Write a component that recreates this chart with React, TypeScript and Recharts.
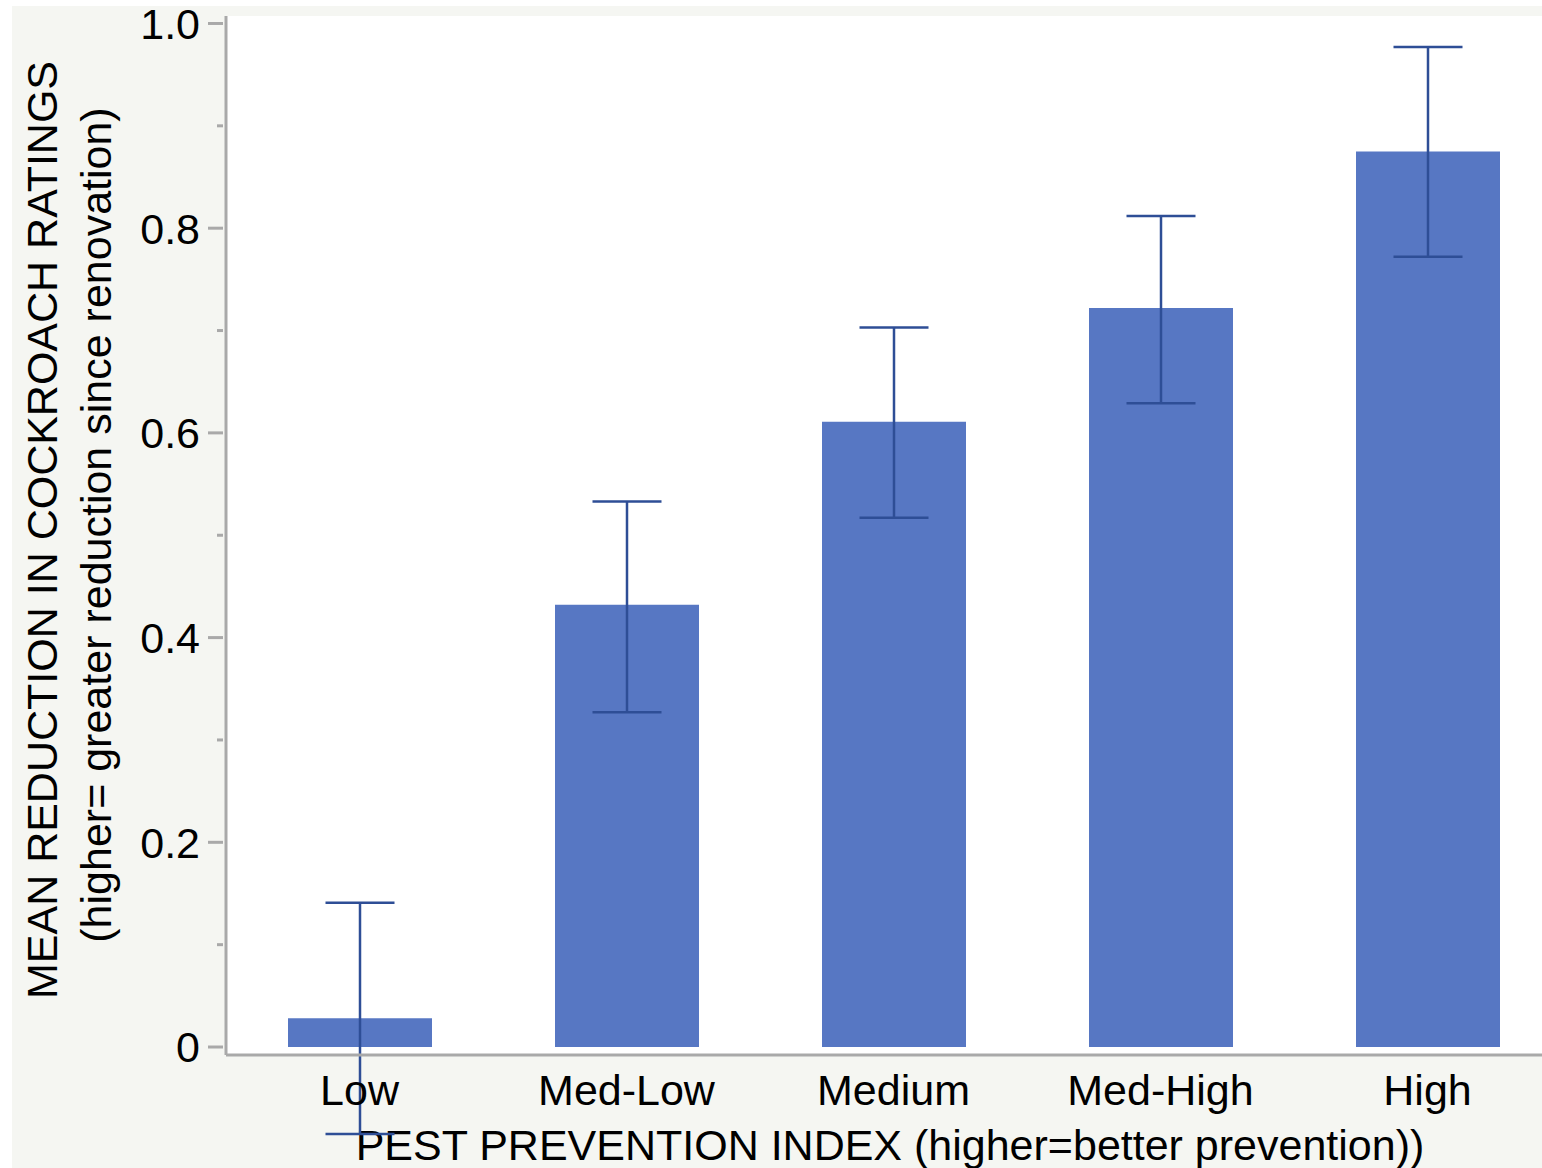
import React from 'react'
import { BarChart, Bar, XAxis, YAxis, CartesianGrid, ErrorBar, Customized } from 'recharts'

// values
const categories = ['Low', 'Med-Low', 'Medium', 'Med-High', 'High']
const meanReduction = [0.028, 0.432, 0.611, 0.722, 0.875]
const errorBelow = [0.113, 0.105, 0.094, 0.093, 0.103]
const errorAbove = [0.113, 0.101, 0.092, 0.09, 0.102]
const yTicks = [0, 0.1, 0.2, 0.3, 0.4, 0.5, 0.6, 0.7, 0.8, 0.9, 1.0]

const chartData = categories.map((name, i) => ({
  name,
  mean: meanReduction[i],
  err: [errorBelow[i], errorAbove[i]],
}))

const FONT = '"Liberation Sans", Arial, Helvetica, sans-serif'
const axisGray = '#a9a9a9'
const barBlue = '#5777c3'
const errBlue = '#2e4e96'

function YTick({ x, y, payload }: any) {
  const v = payload.value as number
  const major = Math.round(v * 10) % 2 === 0
  return (
    <g>
      <line x1={x - (major ? 18 : 9)} x2={x - 3} y1={y} y2={y} stroke={axisGray} strokeWidth={3} />
      {major && (
        <text x={x - 26} y={y} dy="0.36em" textAnchor="end" fontFamily={FONT} fontSize={43} fill="#000">
          {v === 0 ? '0' : v.toFixed(1)}
        </text>
      )}
    </g>
  )
}

function XTick({ x, y, payload }: any) {
  return (
    <text x={x} y={y + 50} textAnchor="middle" fontFamily={FONT} fontSize={43} fill="#000">
      {payload.value}
    </text>
  )
}

// axis titles
function Titles() {
  return (
    <g fontFamily={FONT} fill="#000">
      <text x={57} y={530} transform="rotate(-90, 57, 530)" textAnchor="middle" fontSize={43}>
        MEAN REDUCTION IN COCKROACH RATINGS
      </text>
      <text x={111} y={525} transform="rotate(-90, 111, 525)" textAnchor="middle" fontSize={43}>
        (higher= greater reduction since renovation)
      </text>
      <text x={890} y={1160} textAnchor="middle" fontSize={43}>
        PEST PREVENTION INDEX (higher=better prevention))
      </text>
    </g>
  )
}

export default function App() {
  return (
    <div style={{ position: 'absolute', left: 0, top: 0, width: 1542, height: 1168, overflow: 'hidden', background: '#fff' }}>
      <div style={{ position: 'absolute', left: 12, top: 6, right: 0, bottom: 0, background: '#f5f6f2' }} />
      <div style={{ position: 'absolute', left: 0, top: 0 }}>
        <BarChart width={1561} height={1168} data={chartData} margin={{ top: 16, right: 0, bottom: 0, left: 0 }}>
          <CartesianGrid horizontal={false} vertical={false} fill="#fff" />
          <XAxis
            dataKey="name"
            height={113}
            tickLine={false}
            tickSize={0}
            tickMargin={0}
            tick={<XTick />}
            axisLine={{ stroke: axisGray, strokeWidth: 3 }}
            interval={0}
          />
          <XAxis
            xAxisId="top"
            dataKey="name"
            orientation="top"
            height={0}
            tick={false}
            tickLine={false}
            axisLine={{ stroke: axisGray, strokeWidth: 3 }}
          />
          <YAxis
            width={226}
            domain={[-0.0078, 1.0073]}
            allowDataOverflow
            ticks={yTicks}
            interval={0}
            tickLine={false}
            tickSize={0}
            tickMargin={0}
            tick={<YTick />}
            axisLine={{ stroke: axisGray, strokeWidth: 3 }}
          />
          <Bar dataKey="mean" fill={barBlue} barSize={144} isAnimationActive={false}>
            <ErrorBar dataKey="err" width={34.5} stroke={errBlue} strokeWidth={2.5} direction="y" />
          </Bar>
          <Customized component={Titles} />
        </BarChart>
      </div>
    </div>
  )
}
